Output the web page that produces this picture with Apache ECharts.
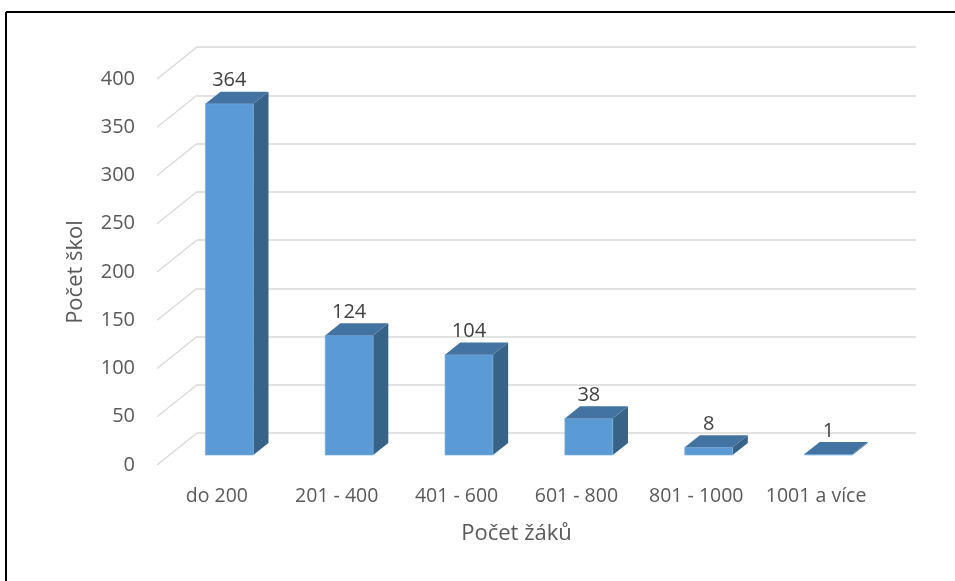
<!DOCTYPE html>
<html>
<head>
<meta charset="utf-8">
<script src="https://cdn.jsdelivr.net/npm/echarts@6/dist/echarts.min.js"></script>
<style>
  html, body { margin: 0; padding: 0; background: #fff; }
  #chart { width: 955px; height: 581px; }
</style>
</head>
<body>
<div id="chart"></div>
<script>
// data
const categories = ['do 200', '201 - 400', '401 - 600', '601 - 800', '801 - 1000', '1001 a více'];
const schoolCounts = [364, 124, 104, 38, 8, 1];
const yTicks = [0, 50, 100, 150, 200, 250, 300, 350, 400];

const FONT = 'Open Sans';
const TEXT_COLOR = '#595959';

// 3D look: vector from back wall to the front edge of the floor
const DEPTH_X = -40;
const DEPTH_Y = 32;
const BAR_FRONT = 0.69;  // where the bar front face sits (0 = back wall, 1 = front edge)
const BAR_DEPTH = 0.38;  // bar depth as part of the floor depth

// back wall box
const wall = { left: 197, right: 39, top: 47, bottom: 148 };
function shifted(f) {
  return {
    left: wall.left + DEPTH_X * f,
    right: wall.right - DEPTH_X * f,
    top: wall.top + DEPTH_Y * f,
    bottom: wall.bottom - DEPTH_Y * f
  };
}

const myChart = echarts.init(document.getElementById('chart'));

const valueAxisBase = {
  type: 'value',
  min: 0,
  max: 400,
  interval: 50,
  axisLine: { show: false },
  axisTick: { show: false }
};

function renderDiagonal(params, api) {
  const p = api.coord([0, api.value(1)]);
  const x = params.coordSys.x;
  return {
    type: 'line',
    shape: { x1: x, y1: p[1], x2: x + DEPTH_X, y2: p[1] + DEPTH_Y },
    style: { stroke: '#d9d9d9', lineWidth: 1.5 }
  };
}

function renderBar(params, api) {
  const idx = api.value(0);
  const top = api.coord([idx, api.value(1)]);
  const bottom = api.coord([idx, 0]);
  const band = api.size([1, 0])[0];
  const w = band * 0.4;
  const x0 = top[0] - w / 2;
  const x1 = top[0] + w / 2;
  const yt = top[1];
  const yb = bottom[1];
  const dx = -DEPTH_X * BAR_DEPTH;
  const dy = -DEPTH_Y * BAR_DEPTH;
  return {
    type: 'group',
    children: [
      {
        type: 'polygon',
        shape: { points: [[x1, yt], [x1 + dx, yt + dy], [x1 + dx, yb + dy], [x1, yb]] },
        style: { fill: '#386388' }
      },
      {
        type: 'rect',
        shape: { x: x0, y: yt, width: w, height: yb - yt },
        style: { fill: '#5b9bd5', stroke: '#7eb0de', lineWidth: 0.6 }
      },
      {
        type: 'polygon',
        shape: { points: [[x0, yt], [x1, yt], [x1 + dx, yt + dy], [x0 + dx, yt + dy]] },
        style: { fill: '#4373a0' }
      },
      {
        type: 'text',
        style: {
          text: String(api.value(1)),
          x: (x0 + x1) / 2,
          y: yt + dy - 1,
          align: 'center',
          verticalAlign: 'bottom',
          fill: '#404040',
          font: '20px "' + FONT + '"'
        }
      }
    ]
  };
}

const front = shifted(1);
const barPlane = shifted(BAR_FRONT);

myChart.setOption({
  animation: false,
  backgroundColor: '#fff',
  textStyle: { fontFamily: FONT },
  graphic: [
    { type: 'line', shape: { x1: 6, y1: 12, x2: 955, y2: 12 }, style: { stroke: '#000', lineWidth: 2 } },
    { type: 'line', shape: { x1: 6, y1: 12, x2: 6, y2: 581 }, style: { stroke: '#000', lineWidth: 2 } }
  ],
  grid: [
    wall,
    front,
    barPlane
  ],
  xAxis: [
    { gridIndex: 0, type: 'category', data: categories, show: false },
    {
      gridIndex: 1,
      type: 'category',
      data: categories,
      axisLine: { show: false },
      axisTick: { show: false },
      axisLabel: { color: TEXT_COLOR, fontSize: 19.5, margin: 21, fontFamily: FONT, interval: 0 },
      name: 'Počet žáků',
      nameLocation: 'middle',
      nameGap: 58,
      nameTextStyle: { color: TEXT_COLOR, fontSize: 22, fontFamily: FONT }
    },
    { gridIndex: 2, type: 'category', data: categories, show: false }
  ],
  yAxis: [
    Object.assign({}, valueAxisBase, {
      gridIndex: 0,
      axisLabel: { show: false },
      splitLine: { show: true, lineStyle: { color: '#d9d9d9', width: 1.5 } }
    }),
    Object.assign({}, valueAxisBase, {
      gridIndex: 1,
      splitLine: { show: false },
      axisLabel: { color: TEXT_COLOR, fontSize: 20, margin: 22, fontFamily: FONT },
      name: 'Počet škol',
      nameLocation: 'middle',
      nameGap: 70,
      nameTextStyle: { color: TEXT_COLOR, fontSize: 22, fontFamily: FONT }
    }),
    Object.assign({}, valueAxisBase, {
      gridIndex: 2,
      show: false
    })
  ],
  series: [
    {
      type: 'custom',
      name: 'diagonals',
      xAxisIndex: 0,
      yAxisIndex: 0,
      renderItem: renderDiagonal,
      data: yTicks.map(v => [0, v]),
      z: 1,
      silent: true
    },
    {
      type: 'custom',
      name: 'Počet škol',
      xAxisIndex: 2,
      yAxisIndex: 2,
      renderItem: renderBar,
      data: schoolCounts.map((v, i) => [i, v]),
      z: 5
    }
  ]
});
</script>
</body>
</html>
